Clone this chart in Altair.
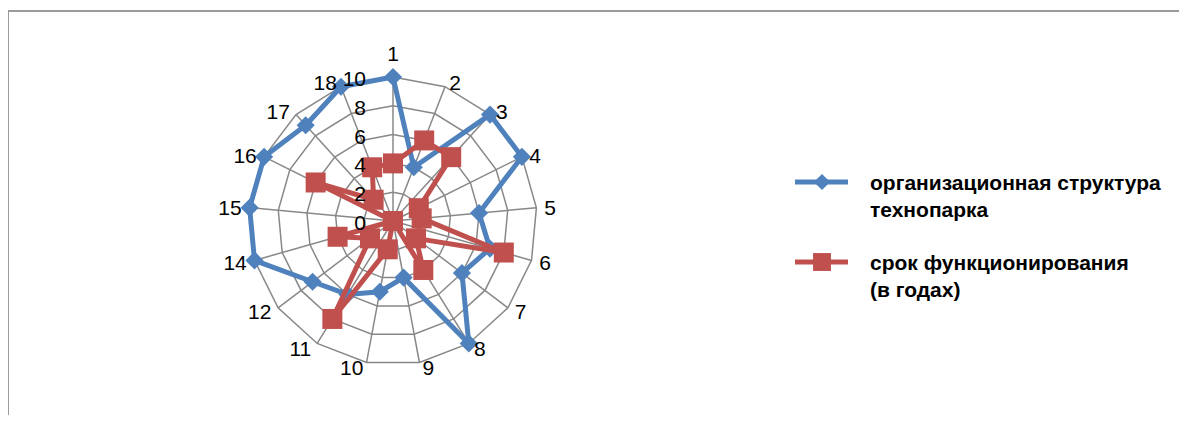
import altair as alt
import pandas as pd

# ---- data ----
categories = ["1", "2", "3", "4", "5", "6", "7", "8", "9", "10", "11", "12",
              "14", "15", "16", "17", "18"]
org_structure = [10, 4, 10, 10, 6, 7, 6, 10, 4, 5, 6, 7, 10, 10, 10, 9, 10]
years_active = [4, 6, 6, 2, 2, 8, 2, 4, 0, 2, 8, 2, 4, 0, 6, 2, 4]
ring_levels = [2, 4, 6, 8, 10]
axis_ticks = [0, 2, 4, 6, 8, 10]
series_names = ["организационная структура технопарка",
                "срок функционирования (в годах)"]
legend_lines = [["организационная структура", "технопарка"],
                ["срок функционирования", "(в годах)"]]
series_values = [org_structure, years_active]
series_colors = ["#4F81BD", "#C0504D"]
series_shapes = ["diamond", "square"]
series_sizes = [330, 400]

# ---- layout (pixels) ----
W, H = 1171, 407
CX, CY = 385, 213
RPX = 144.0          # pixel radius for the maximum value
VMAX = 10.0
U = RPX / VMAX       # pixels per unit
N = len(categories)
FONT = "Liberation Sans"
GRID = "#888888"
LBL_SIZE = 21

xs = alt.Scale(domain=[-CX / U, (W - CX) / U], range=[0, W], nice=False, zero=False)
ys = alt.Scale(domain=[-(H - CY) / U, CY / U], range=[H, 0], nice=False, zero=False)

ANG = f"datum.idx * 2 * PI / {N}"


def polar(chart, rfield="value"):
    return chart.transform_calculate(ang=ANG).transform_calculate(
        px=f"datum.{rfield} * sin(datum.ang)",
        py=f"datum.{rfield} * cos(datum.ang)",
    )


# grid rings (closed polygons)
ring_df = pd.DataFrame([{"ring": r, "idx": i, "value": r}
                        for r in ring_levels for i in range(N + 1)])
rings = polar(alt.Chart(ring_df)).mark_line(color=GRID, strokeWidth=1.5).encode(
    x=alt.X("px:Q", scale=xs, axis=None),
    y=alt.Y("py:Q", scale=ys, axis=None),
    detail="ring:N",
    order="idx:Q",
)

# spokes
spoke_df = pd.DataFrame({"idx": list(range(N)), "value": [max(ring_levels)] * N})
spokes = polar(alt.Chart(spoke_df)).transform_calculate(zero="0").mark_rule(
    color=GRID, strokeWidth=1.5).encode(
    x=alt.X("zero:Q", scale=xs, axis=None),
    y=alt.Y("zero:Q", scale=ys, axis=None),
    x2="px:Q",
    y2="py:Q",
)

# radial tick labels
tick_df = pd.DataFrame({"t": axis_ticks, "lbl": [str(t) for t in axis_ticks]})
ticks = alt.Chart(tick_df).transform_calculate(zero="0").mark_text(
    align="right", baseline="middle", dx=-27, dy=3, font=FONT, fontSize=LBL_SIZE,
    color="#000"
).encode(
    x=alt.X("zero:Q", scale=xs, axis=None),
    y=alt.Y("t:Q", scale=ys, axis=None),
    text="lbl:N",
)

# category labels: anchored beside the outer end of each spoke
cat_df = pd.DataFrame({"idx": list(range(N)), "cat": categories})
cat_labels = alt.Chart(cat_df).transform_calculate(ang=ANG).transform_calculate(
    s="sin(datum.ang)", c="cos(datum.ang)"
).transform_calculate(
    dir="datum.s > 0.01 ? 1 : (datum.s < -0.01 ? -1 : 0)"
).transform_calculate(
    px=f"{VMAX} * datum.s + datum.dir * (2 + 6 * abs(datum.s) + length(datum.cat) * {LBL_SIZE * 0.278}) / {U}",
    py=f"{VMAX} * datum.c + (datum.dir == 0 ? 24 : 5 * datum.c) / {U}",
).mark_text(align="center", baseline="middle", dy=2, font=FONT, fontSize=LBL_SIZE,
            color="#000").encode(
    x=alt.X("px:Q", scale=xs, axis=None),
    y=alt.Y("py:Q", scale=ys, axis=None),
    text="cat:N",
)

layers = [rings, spokes]

# series
for s, (name, vals) in enumerate(zip(series_names, series_values)):
    rows = [{"series": name, "idx": i, "value": v} for i, v in enumerate(vals)]
    rows.append({"series": name, "idx": N, "value": vals[0]})  # close polygon
    df = pd.DataFrame(rows)
    base = polar(alt.Chart(df))
    line = base.mark_line(color=series_colors[s], strokeWidth=5, strokeJoin="round").encode(
        x=alt.X("px:Q", scale=xs, axis=None),
        y=alt.Y("py:Q", scale=ys, axis=None),
        order="idx:Q",
    )
    pts = base.transform_filter(f"datum.idx < {N}").mark_point(
        shape=series_shapes[s], filled=True, opacity=1, color=series_colors[s],
        size=series_sizes[s], strokeWidth=0
    ).encode(
        x=alt.X("px:Q", scale=xs, axis=None),
        y=alt.Y("py:Q", scale=ys, axis=None),
    )
    layers += [line, pts]

layers += [ticks, cat_labels]

# legend (drawn manually)
LEG_Y = [174, 254]
one = pd.DataFrame({"k": [0]})
for s in range(len(series_names)):
    ly = LEG_Y[s]
    layers.append(alt.Chart(one).mark_rule(color=series_colors[s], strokeWidth=5).encode(
        x=alt.value(787), x2=alt.value(840), y=alt.value(ly)))
    layers.append(alt.Chart(one).mark_point(
        shape=series_shapes[s], filled=True, opacity=1, color=series_colors[s],
        size=series_sizes[s] * 0.8, strokeWidth=0).encode(x=alt.value(814), y=alt.value(ly)))
    for j, txt in enumerate(legend_lines[s]):
        layers.append(alt.Chart(pd.DataFrame({"t": [txt]})).mark_text(
            align="left", baseline="middle", font=FONT, fontSize=21,
            fontWeight="bold", color="#000").encode(
            x=alt.value(862), y=alt.value(ly + 2 + 27 * j), text="t:N"))

# chart-area frame
frame = alt.Chart(one).mark_rect(fill=None, stroke="#9a9a9a", strokeWidth=2).encode(
    x=alt.value(0), x2=alt.value(W + 40), y=alt.value(3), y2=alt.value(H + 40))
layers.insert(0, frame)

chart = alt.layer(*layers).properties(
    width=W, height=H,
    autosize=alt.AutoSizeParams(type="none"),
    padding=0,
).configure_view(stroke=None)

chart.save("out.html", embed_options={"renderer": "svg", "actions": False})
